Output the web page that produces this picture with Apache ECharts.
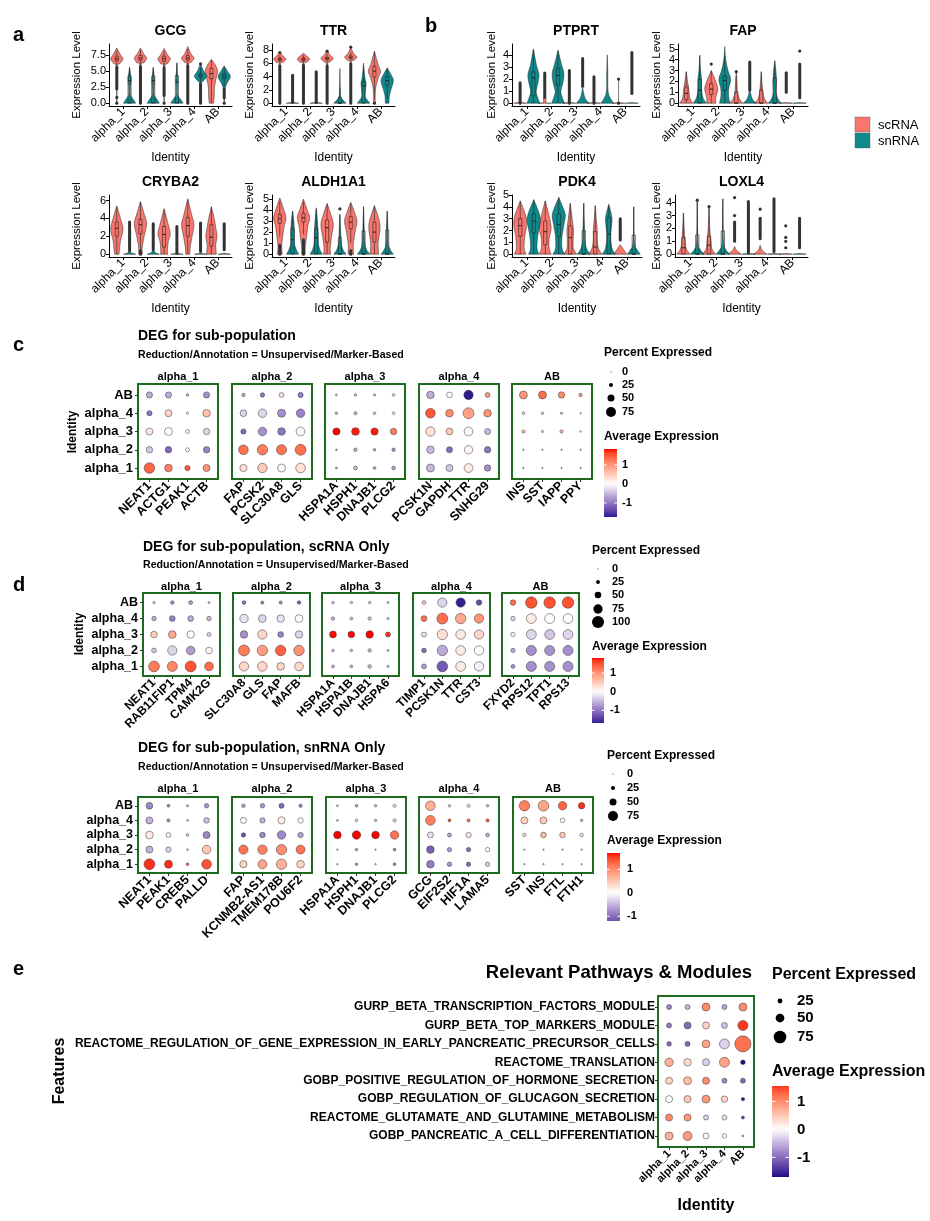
<!DOCTYPE html>
<html><head><meta charset="utf-8">
<script src="https://cdn.jsdelivr.net/npm/echarts@6/dist/echarts.min.js"></script>
<style>html,body{margin:0;padding:0;background:#fff}#c{width:930px;height:1221px}</style>
</head><body><div id="c"></div>
<script>
// ---------------- DATA ----------------
const IDENT = ['alpha_1','alpha_2','alpha_3','alpha_4','AB'];
const ROWS = ['AB','alpha_4','alpha_3','alpha_2','alpha_1'];
const GROUPS = ['scRNA','snRNA'];

// violin entries: [profile [[value, relWidth]...], box [lo,q1,med,q3,hi] | null, outliers (value or [from,to] stack)]
const GCG_sc = [
 [[[0,0.04],[5.4,0.05],[6.2,0.55],[6.9,1],[7.6,0.55],[8.6,0]],[5.8,6.6,6.9,7.3,8.2],[0,0.9,[2.2,5.6]]],
 [[[0,0.04],[5.6,0.05],[6.3,0.6],[7.0,1],[7.7,0.5],[8.6,0]],[5.9,6.7,7.0,7.4,8.3],[[0,5.7]]],
 [[[0,0.04],[5.4,0.05],[6.2,0.6],[6.9,1],[7.6,0.5],[8.5,0]],[5.7,6.5,6.9,7.3,8.1],[0,[1.2,5.5]]],
 [[[0,0.04],[5.6,0.05],[6.4,0.6],[7.0,1],[7.7,0.5],[8.8,0]],[5.9,6.7,7.0,7.4,8.4],[[0,5.8]]],
 [[[0,0.35],[1,0.45],[2.5,0.5],[4,0.8],[5,1],[6,0.6],[6.8,0]],[0,3.8,4.6,5.4,6.7],[]]
];
const GCG_sn = [
 [[[0,1],[0.6,0.6],[1.3,0.15],[2.5,0.12],[3.6,0.25],[4.6,0.15],[5.6,0]],[0,0,3.5,4.2,5.5],[]],
 [[[0,1],[0.6,0.6],[1.3,0.15],[2.5,0.12],[3.5,0.2],[4.6,0.12],[5.6,0]],[0,0,3.5,4.2,5.5],[]],
 [[[0,1],[0.6,0.6],[1.3,0.12],[2.5,0.1],[3.5,0.15],[4.8,0.08],[6.3,0]],[0,0,3.3,4.3,6.2],[]],
 [[[0,0.03],[2.8,0.05],[3.5,0.5],[4.2,1],[5,0.5],[6.1,0]],[3.2,4.0,4.3,4.6,5.6],[[0,3.0],6.1]],
 [[[0,0.03],[1.8,0.05],[3,0.4],[4.1,1],[5,0.5],[5.8,0]],[2.6,3.8,4.2,4.6,5.6],[0,[0.8,2.2]]]
];
const TTR_sc = [
 [[[0,0.04],[5.6,0.05],[6.1,0.5],[6.6,1],[7.1,0.5],[7.7,0]],[6.0,6.4,6.6,6.8,7.2],[[0,5.6],7.6]],
 [[[0,0.04],[5.6,0.05],[6.1,0.5],[6.6,1],[7.1,0.5],[7.5,0]],[6.0,6.4,6.6,6.8,7.2],[[0,5.7]]],
 [[[0,0.04],[5.5,0.05],[6.2,0.5],[6.7,1],[7.2,0.5],[7.9,0]],[6.0,6.5,6.7,6.9,7.4],[[0,5.6],7.8]],
 [[[0,0.04],[5.8,0.05],[6.4,0.5],[6.9,1],[7.4,0.5],[8.3,0]],[6.3,6.7,6.9,7.1,7.6],[[0,5.9],8.4]],
 [[[0,0.15],[1,0.12],[2.5,0.25],[4,0.7],[4.8,1],[5.8,0.6],[7.8,0]],[0.6,3.9,4.8,5.5,7.7],[0]]
];
const TTR_sn = [
 [[[0,1],[0.12,0]],null,[[0.1,4.2]]],
 [[[0,1],[0.12,0]],null,[[0.1,4.7]]],
 [[[0,1],[0.4,0.6],[0.9,0.15],[2,0.07],[5.2,0]],[0,0,0,0.9,2.2],[]],
 [[[0,1],[0.5,0.6],[1,0.25],[2,0.3],[3,0.4],[4,0.2],[6,0]],[0,0,2.6,3.2,5.5],[]],
 [[[0,0.3],[1,0.35],[2,0.6],[3.4,1],[4.3,0.6],[5.3,0]],[0.5,2.7,3.4,4.0,5.2],[]]
];
const CRYBA2_sc = [
 [[[0,0.35],[0.5,0.45],[1.5,0.6],[2.8,1],[4,0.6],[5.4,0]],[0,2.0,2.9,3.6,5.3],[]],
 [[[0,0.3],[0.8,0.3],[2,0.6],[3.4,1],[4.5,0.6],[5.9,0]],[0.3,2.3,3.3,3.9,5.8],[[0,0.4]]],
 [[[0,0.6],[0.5,0.55],[1.5,0.7],[2.3,1],[3.5,0.6],[5.1,0]],[0,0.8,2.2,3.1,5.0],[]],
 [[[0,0.35],[0.8,0.4],[2,0.7],[3.3,1],[4.5,0.6],[6.2,0]],[0,2.0,3.2,4.1,6.1],[]],
 [[[0,0.8],[1,0.7],[2,0.9],[3,0.7],[4,0.45],[5.3,0]],[0,0.9,1.9,3.3,5.3],[]]
];
const CRYBA2_sn = [
 [[[0,1],[0.15,0.3],[0.35,0]],null,[[0.4,3.6]]],
 [[[0,1],[0.15,0.4],[0.5,0]],null,[[0.5,3.4]]],
 [[[0,1],[0.1,0]],null,[[0.1,3.1]]],
 [[[0,1],[0.1,0]],null,[[0.3,3.5]]],
 [[[0,1],[0.1,0]],null,[[0.5,3.4]]]
];
const ALDH1A1_sc = [
 [[[0,0.4],[0.7,0.3],[1.5,0.45],[2.5,0.7],[3.3,1],[4.2,0.55],[5.1,0]],[1.6,2.8,3.2,3.6,4.8],[[0,0.8]]],
 [[[0,0.3],[0.7,0.3],[1.5,0.5],[2.5,0.7],[3.3,1],[4.1,0.55],[5.0,0]],[1.8,2.9,3.3,3.7,4.8],[[0,1.3]]],
 [[[0,0.6],[0.5,0.5],[1.5,0.7],[2.7,1],[3.6,0.6],[4.6,0]],[0,1.1,2.4,3.1,4.5],[]],
 [[[0,0.45],[0.8,0.4],[2,0.7],[3,1],[3.8,0.6],[4.7,0]],[1,2.3,2.9,3.4,4.6],[[0,0.3]]],
 [[[0,0.7],[1,0.6],[2.2,0.9],[3,0.8],[4.4,0]],[0,1.1,2.0,2.9,4.4],[]]
];
const ALDH1A1_sn = [
 [[[0,1],[0.4,0.6],[1,0.3],[2,0.3],[3,0.2],[3.9,0]],[0,0,1.3,2.3,3.9],[]],
 [[[0,1],[0.4,0.6],[1,0.35],[2,0.3],[3,0.2],[4.2,0]],[0,0,1.5,2.3,4.1],[]],
 [[[0,1],[0.4,0.5],[1,0.2],[2,0.12],[3.6,0]],[0,0,0,1.5,3.6],[4.1]],
 [[[0,1],[0.4,0.5],[1,0.2],[2.5,0.1],[4.3,0]],[0,0,0,2.1,4.3],[]],
 [[[0,1],[0.4,0.5],[1,0.15],[2.5,0.1],[3.9,0]],[0,0,0,2.2,3.9],[]]
];
const PTPRT_sc = [
 [[[0,1],[0.08,0]],null,[[0,1.7]]],
 [[[0,1],[0.05,0.25],[0.45,0.2],[0.5,0]],null,[[0.5,2.5]]],
 [[[0,1],[0.08,0]],null,[[0,2.7]]],
 [[[0,1],[0.08,0]],null,[[0,2.2]]],
 [[[0,1],[0.05,0]],[0,0,0,0,2.0],[0,2.0]]
];
const PTPRT_sn = [
 [[[0,1],[0.5,0.65],[1,0.45],[1.8,0.75],[2.4,0.85],[3.2,0.45],[4.5,0]],[0,0.6,2.1,2.6,4.4],[]],
 [[[0,1],[0.5,0.65],[1,0.45],[1.8,0.8],[2.5,0.9],[3.3,0.5],[4.4,0]],[0,1.5,2.3,2.9,4.3],[]],
 [[[0,1],[0.4,0.4],[1,0.1],[1.4,0]],null,[[1.4,3.7]]],
 [[[0,1],[0.4,0.5],[1,0.12],[2.5,0.08],[4.0,0]],null,[]],
 [[[0,1],[0.05,0]],null,[[0.8,4.2]]]
];
const FAP_sc = [
 [[[0,1],[0.4,0.6],[0.9,0.45],[1.3,0.4],[2,0.2],[2.9,0]],[0,0.3,0.9,1.5,2.9],[]],
 [[[0,0.7],[0.5,0.7],[1.3,1],[2,0.7],[3.0,0]],[0,0.8,1.3,1.8,3.0],[3.6]],
 [[[0,1],[0.4,0.5],[1,0.2],[2,0.1],[2.9,0]],[0,0,0,1.0,2.5],[2.9]],
 [[[0,1],[0.4,0.5],[1,0.25],[2,0.1],[2.9,0]],[0,0,0,1.2,2.9],[]],
 [[[0,1],[0.05,0]],null,[[1.0,2.8]]]
];
const FAP_sn = [
 [[[0,1],[0.5,0.5],[1.2,0.3],[2.3,0.25],[3.2,0.1],[4.4,0]],[0,0,1.2,2.2,4.4],[]],
 [[[0,0.8],[0.6,0.6],[1.3,0.6],[2.2,0.9],[3,0.5],[4,0.15],[5.2,0]],[0,1.2,2.1,2.5,4.3],[]],
 [[[0,1],[0.4,0.4],[1,0.1],[1.2,0]],null,[[1.2,3.8]]],
 [[[0,1],[0.4,0.5],[1,0.2],[2,0.25],[2.8,0.2],[3.9,0]],[0,0,0,2.3,3.9],[]],
 [[[0,1],[0.05,0]],null,[[0.5,3.6],4.8]]
];
const PDK4_sc = [
 [[[0,0.9],[0.5,0.6],[1.5,0.7],[2.5,1],[3.3,0.8],[4.5,0]],[0,1.5,2.4,3.0,4.5],[]],
 [[[0,0.9],[0.5,0.6],[1.3,0.6],[2.2,0.9],[3.2,0.6],[4.5,0]],[0,0.8,1.9,2.8,4.5],[]],
 [[[0,1],[0.5,0.5],[1.3,0.45],[2,0.5],[3,0.3],[4.3,0]],[0,0,1.4,2.4,4.3],[]],
 [[[0,1],[0.5,0.5],[1.2,0.3],[2,0.3],[3,0.15],[4.1,0]],[0,0,0.6,1.9,4.1],[]],
 [[[0,1],[0.4,0.5],[0.8,0]],null,[[1.2,3.0]]]
];
const PDK4_sn = [
 [[[0,0.8],[0.5,0.5],[1.5,0.6],[2.8,1],[3.5,0.8],[4.6,0]],[0,1.8,2.8,3.4,4.6],[]],
 [[[0,0.9],[0.5,0.5],[1.5,0.5],[2.5,0.8],[3.3,1],[4,0.6],[4.8,0]],[0,1.5,2.5,3.4,4.8],[]],
 [[[0,1],[0.4,0.5],[1,0.2],[2,0.12],[4.3,0]],[0,0,0,2.0,4.3],[]],
 [[[0,1],[0.5,0.5],[1.5,0.3],[2.5,0.45],[3,0.5],[3.6,0.3],[4.2,0]],[0,0,1.7,3.1,4.2],[]],
 [[[0,1],[0.4,0.5],[1,0.1],[4.0,0]],[0,0,0,1.6,4.0],[]]
];
const LOXL4_sc = [
 [[[0,1],[0.4,0.45],[1,0.25],[2,0.12],[3.2,0]],[0,0,0.5,1.3,3.2],[]],
 [[[0,1],[0.4,0.45],[1,0.3],[2,0.12],[3.6,0]],[0,0,0.7,1.4,3.6],[3.7]],
 [[[0,1],[0.3,0.3],[0.6,0]],null,[[1.0,2.5],3.0,4.4]],
 [[[0,1],[0.3,0.3],[0.7,0]],null,[[1.2,2.8],3.5]],
 [[[0,1],[0.05,0]],null,[0.5,1.0,1.3,2.2]]
];
const LOXL4_sn = [
 [[[0,1],[0.4,0.4],[1,0.1],[4.2,0]],[0,0,0,1.5,4.2],[4.2]],
 [[[0,1],[0.4,0.4],[1,0.1],[4.3,0]],[0,0,0,1.8,4.3],[]],
 [[[0,1],[0.05,0]],null,[[0.1,4.1]]],
 [[[0,1],[0.05,0]],null,[[0.2,4.3]]],
 [[[0,1],[0.05,0]],null,[[0.5,2.8]]]
];

// dot plots: [facet][row AB..alpha_1][gene]
const DOT_FACETS = ['alpha_1','alpha_2','alpha_3','alpha_4','AB'];
const c_genes = [['NEAT1','ACTG1','PEAK1','ACTB'],['FAP','PCSK2','SLC30A8','GLS'],['HSPA1A','HSPH1','DNAJB1','PLCG2'],['PCSK1N','GAPDH','TTR','SNHG29'],['INS','SST','IAPP','PPY']];
const c_avg = [
 [[-0.6,-0.6,-0.5,-0.8],[-1.0,0.4,0,0.6],[0.2,0,0,-0.3],[-0.4,-1.1,0,-0.9],[1.4,1.2,1.5,1.0]],
 [[-0.6,-1.0,0.3,-0.9],[-0.3,-0.3,-0.8,-0.9],[-1.1,-0.8,-1.0,0.1],[1.3,1.2,1.3,1.3],[0.3,0.5,0.05,0.3]],
 [[-0.3,-0.5,-0.4,0.2],[-0.5,-0.5,-0.3,0.1],[1.84,1.8,1.8,1.2],[-0.5,-0.6,-0.7,-0.8],[-0.5,-0.5,-0.6,-0.7]],
 [[-0.6,0,-1.74,1.0],[1.5,1.1,0.9,1.0],[0.3,0.5,0.1,-0.5],[-0.5,-1.1,0.1,-1.0],[-0.5,-0.4,0.2,-0.8]],
 [[1.0,1.3,1.1,1.0],[-0.2,-0.3,-0.5,-0.4],[0.7,0.5,0.7,0],[-0.5,-0.5,-0.5,-0.5],[-0.5,-0.5,-0.5,-0.5]]
];
const c_pct = [
 [[43,43,12,43],[35,50,10,55],[50,58,25,45],[45,45,25,45],[80,55,36,50]],
 [[20,28,32,35],[48,62,58,62],[35,62,55,65],[72,78,76,82],[52,70,58,72]],
 [[8,12,10,15],[12,18,14,15],[52,56,52,45],[6,20,12,20],[8,24,15,22]],
 [[55,40,70,32],[72,55,82,55],[70,48,65,42],[55,42,62,45],[58,50,65,45]],
 [[58,58,45,20],[15,12,10,4],[18,10,18,5],[3,3,3,3],[3,3,3,3]]
];
const d_genes = [['NEAT1','RAB11FIP1','TPM4','CAMK2G'],['SLC30A8','GLS','FAP','MAFB'],['HSPA1A','HSPA1B','DNAJB1','HSPA6'],['TIMP1','PCSK1N','TTR','CST3'],['FXYD2','RPS12','TPT1','RPS13']];
const d_avg = [
 [[-0.3,-0.8,-0.7,-0.3],[-0.6,-0.9,-0.6,-0.5],[0.5,0.8,0.0,-0.3],[-0.4,-0.3,-0.7,0.05],[1.2,1.1,1.5,1.3]],
 [[-1.0,-0.9,-0.8,-1.1],[-0.2,-0.3,-0.2,0.0],[-0.8,0.4,-0.9,-0.3],[1.2,0.9,1.4,1.0],[0.4,0.4,0.4,0.4]],
 [[-0.3,-0.3,-0.3,-0.2],[-0.5,-0.4,-0.4,-0.3],[1.8,1.8,1.81,1.7],[-0.4,-0.4,-0.5,-0.3],[-0.5,-0.5,-0.5,-0.3]],
 [[0.5,-0.3,-1.68,-1.3],[1.3,1.3,0.8,1.0],[-0.2,0.3,0.2,0.4],[-1.1,-0.6,0.2,0.0],[-0.7,-1.2,0.2,-0.1]],
 [[1.3,1.5,1.5,1.5],[-0.3,0.2,0,0],[0.1,-0.3,-0.4,-0.3],[-0.6,-0.8,-0.8,-0.8],[-0.8,-0.8,-0.8,-0.8]]
];
const d_pct = [
 [[10,22,25,8],[30,42,42,30],[50,60,58,25],[33,75,68,50],[88,82,90,70]],
 [[25,18,18,22],[65,60,58,62],[58,75,42,58],[90,85,85,85],[75,78,60,70]],
 [[12,12,12,8],[20,16,20,10],[52,50,58,35],[12,12,20,8],[15,15,22,10]],
 [[25,75,75,40],[42,90,85,75],[35,85,78,75],[32,85,78,75],[35,88,80,75]],
 [[40,95,95,95],[30,80,80,80],[30,80,80,80],[28,82,82,82],[25,82,82,82]]
];
const n_genes = [['NEAT1','PEAK1','CREB5','PALLD'],['FAP','KCNMB2-AS1','TMEM178B','POU6F2'],['HSPA1A','HSPH1','DNAJB1','PLCG2'],['GCG','EIF2S2','HIF1A','LAMA5'],['SST','INS','FTL','FTH1']];
const n_avg = [
 [[-0.8,-0.8,-0.5,-0.7],[-0.5,-0.7,-0.4,-0.4],[0.2,0.05,0.5,-0.8],[-0.5,-0.3,-0.3,0.5],[1.6,1.6,1.2,1.4]],
 [[-0.6,-0.7,-1.0,-0.8],[0.05,-0.5,0.15,0],[-1.2,-0.8,-0.8,-0.6],[1.2,1.1,1.0,1.2],[0.4,0.8,0.7,0.4]],
 [[-0.3,-0.5,-0.5,0.3],[-0.3,-0.2,-0.4,0.4],[1.7,1.7,1.7,1.2],[-0.3,-0.7,-0.3,-0.8],[-0.3,-0.7,-0.3,-0.8]],
 [[0.7,0.5,0.3,-0.5],[1.1,1.5,1.1,1.4],[-0.2,-0.6,0.2,-0.6],[-1.1,-0.7,-1.0,0.0],[-0.9,-0.7,-1.0,-0.3]],
 [[1.1,0.8,1.3,1.6],[0.4,0.5,0.05,-0.5],[0.3,0.6,0.5,0.2],[-0.3,-0.3,-0.3,-0.3],[-0.3,-0.3,-0.3,-0.3]]
];
const n_pct = [
 [[48,15,8,28],[50,18,7,38],[55,32,14,50],[50,36,6,63],[82,58,15,72]],
 [[22,28,34,20],[42,36,52,36],[28,38,62,36],[68,70,78,66],[52,66,78,56]],
 [[8,15,12,18],[8,15,12,18],[55,62,55,62],[4,12,4,15],[4,12,5,15]],
 [[72,12,18,12],[72,15,18,18],[42,25,36,22],[55,28,28,28],[55,28,28,28]],
 [[78,80,62,45],[50,50,30,12],[20,38,38,20],[4,4,4,4],[4,4,4,4]]
];
const e_features = ['GURP_BETA_TRANSCRIPTION_FACTORS_MODULE','GURP_BETA_TOP_MARKERS_MODULE','REACTOME_REGULATION_OF_GENE_EXPRESSION_IN_EARLY_PANCREATIC_PRECURSOR_CELLS','REACTOME_TRANSLATION','GOBP_POSITIVE_REGULATION_OF_HORMONE_SECRETION','GOBP_REGULATION_OF_GLUCAGON_SECRETION','REACTOME_GLUTAMATE_AND_GLUTAMINE_METABOLISM','GOBP_PANCREATIC_A_CELL_DIFFERENTIATION'];
const e_avg = [
 [-0.8,-0.5,1.0,-0.6,1.0],
 [-0.9,-1.0,0.4,-0.4,1.55],
 [-1.0,-1.0,0.8,-0.3,1.2],
 [0.7,0.3,-0.3,0.8,-1.7],
 [0.4,0.6,1.0,-0.8,-1.0],
 [0.0,0.5,0.9,0.4,-1.6],
 [1.0,0.9,-0.3,-0.2,-1.3],
 [0.7,0.9,0.1,0.0,-0.5]
];
const e_pct = [
 [26,26,45,26,45],
 [26,39,39,32,58],
 [23,26,45,58,97],
 [48,42,39,58,23],
 [39,45,39,26,26],
 [39,39,45,35,16],
 [39,39,26,26,13],
 [45,52,32,23,6]
];

// ---------------- HELPERS ----------------
const FONT = "'Liberation Sans', Arial, Helvetica, sans-serif";
const RED = '#F8766D', TEAL = '#0E8A8C', GREEN = '#1e6b1e';
const grids = [], xAxes = [], yAxes = [], series = [], graphics = [];

function txt(x, y, s, font, align, rot, fill) {
  return { type: 'text', x: x, y: y, rotation: rot || 0, silent: true,
    style: { text: s, font: font, fill: fill || '#000', align: align || 'left', verticalAlign: 'middle',
             textAlign: align || 'left', textVerticalAlign: 'middle' } };
}
function hex2rgb(h){h=h.replace('#','');return [parseInt(h.slice(0,2),16),parseInt(h.slice(2,4),16),parseInt(h.slice(4,6),16)];}
function s2l(c){c/=255;return c<=0.04045?c/12.92:Math.pow((c+0.055)/1.055,2.4);}
function l2s(c){const v=c<=0.0031308?12.92*c:1.055*Math.pow(c,1/2.4)-0.055;return Math.round(Math.max(0,Math.min(1,v))*255);}
function rgb2lab(rgb){const r=s2l(rgb[0]),g=s2l(rgb[1]),b=s2l(rgb[2]);
  const x=(r*0.4124+g*0.3576+b*0.1805)/0.95047,y=r*0.2126+g*0.7152+b*0.0722,z=(r*0.0193+g*0.1192+b*0.9505)/1.08883;
  const f=t=>t>0.008856?Math.cbrt(t):(7.787*t+16/116);const fx=f(x),fy=f(y),fz=f(z);
  return [116*fy-16,500*(fx-fy),200*(fy-fz)];}
function lab2rgb(l){const fy=(l[0]+16)/116,fx=fy+l[1]/500,fz=fy-l[2]/200;
  const fi=t=>{const t3=t*t*t;return t3>0.008856?t3:(t-16/116)/7.787;};
  const x=fi(fx)*0.95047,y=fi(fy),z=fi(fz)*1.08883;
  return [l2s(x*3.2406-y*1.5372-z*0.4986),l2s(-x*0.9689+y*1.8758+z*0.0415),l2s(x*0.0557-y*0.2040+z*1.0570)];}
const LAB_W = rgb2lab([255,255,255]), LAB_HI = rgb2lab(hex2rgb('#FF0000')), LAB_LO = rgb2lab(hex2rgb('#1A0A8A'));
function colorFn(t){
  t = Math.max(-1, Math.min(1, t));
  const end = t >= 0 ? LAB_HI : LAB_LO, a = Math.abs(t);
  const c = lab2rgb([0,1,2].map(k => LAB_W[k] + (end[k]-LAB_W[k])*a));
  return 'rgb(' + c.join(',') + ')';
}
function catmull(pts, seg){
  const out=[];
  for(let i=0;i<pts.length-1;i++){
    const p0=pts[Math.max(i-1,0)],p1=pts[i],p2=pts[i+1],p3=pts[Math.min(i+2,pts.length-1)];
    for(let s=0;s<seg;s++){
      const t=s/seg,t2=t*t,t3=t2*t;
      const f=k=>0.5*((2*p1[k])+(-p0[k]+p2[k])*t+(2*p0[k]-5*p1[k]+4*p2[k]-p3[k])*t2+(-p0[k]+3*p1[k]-3*p2[k]+p3[k])*t3);
      out.push([f(0),f(1)]);
    }
  }
  out.push(pts[pts.length-1]);
  return out;
}

// ---------------- VIOLIN PANELS ----------------
function violinRender(list, grp, color){
  return function(params, api){
    const spec = list[params.dataIndex];
    const i = api.value(0);
    const unit = api.size([1,0])[0];
    const cx = api.coord([i,0])[0] + (grp===0?-1:1)*0.27*unit;
    const hw = 0.26*unit;
    const Y = v => api.coord([i,v])[1];
    const sm = catmull(spec[0].map(p => [p[1], Y(p[0])]), 10);
    const right = sm.map(p => [cx + Math.max(0,p[0])*hw, p[1]]);
    const left = sm.slice().reverse().map(p => [cx - Math.max(0,p[0])*hw, p[1]]);
    const ch = [{type:'polygon', shape:{points:right.concat(left)}, style:{fill:color, stroke:'#222', lineWidth:0.5}}];
    const b = spec[1];
    if (b){
      const bw = 0.065*unit;
      ch.push({type:'line', shape:{x1:cx,y1:Y(b[0]),x2:cx,y2:Y(b[1])}, style:{stroke:'#222',lineWidth:0.6}});
      ch.push({type:'line', shape:{x1:cx,y1:Y(b[3]),x2:cx,y2:Y(b[4])}, style:{stroke:'#222',lineWidth:0.6}});
      if (b[3]>b[1]) ch.push({type:'rect', shape:{x:cx-bw,y:Y(b[3]),width:2*bw,height:Y(b[1])-Y(b[3])}, style:{fill:'none',stroke:'#222',lineWidth:0.6}});
      ch.push({type:'line', shape:{x1:cx-bw,y1:Y(b[2]),x2:cx+bw,y2:Y(b[2])}, style:{stroke:'#222',lineWidth:1}});
    }
    for (const o of spec[2]){
      if (Array.isArray(o)) ch.push({type:'line', shape:{x1:cx,y1:Y(o[0]),x2:cx,y2:Y(o[1])}, style:{stroke:'#333',lineWidth:3,lineCap:'round'}});
      else ch.push({type:'circle', shape:{cx:cx,cy:Y(o),r:1.6}, style:{fill:'#333'}});
    }
    return {type:'group', children:ch};
  };
}
function violinPanel(p){
  const gi = grids.length; const [L,T,W,H] = p.rect;
  grids.push({left:L, top:T, width:W, height:H});
  xAxes.push({gridIndex:gi, type:'value', min:-0.6, max:4.6,
    axisLine:{show:true,onZero:false,lineStyle:{color:'#000',width:1}},
    axisTick:{show:true,customValues:[0,1,2,3,4],length:3,lineStyle:{color:'#000'}},
    axisLabel:{customValues:[0,1,2,3,4],formatter:v=>IDENT[Math.round(v)],rotate:45,fontSize:12,color:'#000',fontFamily:FONT,margin:4,showMinLabel:true,showMaxLabel:true,hideOverlap:false},
    splitLine:{show:false}});
  yAxes.push({gridIndex:gi, type:'value', min:p.ymin, max:p.ymax,
    axisLine:{show:true,onZero:false,lineStyle:{color:'#000',width:1}},
    axisTick:{show:true,customValues:p.ticks,length:3,lineStyle:{color:'#000'}},
    axisLabel:{customValues:p.ticks,formatter:v=>p.dec?v.toFixed(1):String(v),fontSize:11,color:'#000',fontFamily:FONT,margin:3,showMinLabel:true,showMaxLabel:true,hideOverlap:false},
    splitLine:{show:false}});
  [[p.sc,0,RED],[p.sn,1,TEAL]].forEach(([list,g,col]) => {
    series.push({type:'custom', name:GROUPS[g], xAxisIndex:gi, yAxisIndex:gi, data:list.map((v,i)=>[i,0]),
      encode:{x:0,y:1}, renderItem:violinRender(list,g,col), silent:true, animation:false, clip:false});
  });
  graphics.push(txt(L+W/2, p.titleY, p.title, 'bold 14px '+FONT, 'center'));
  graphics.push(txt(L+W/2, p.idY, 'Identity', '12px '+FONT, 'center'));
  graphics.push(txt(p.elX, T+31, 'Expression Level', '11.5px '+FONT, 'center', Math.PI/2));
}
violinPanel({title:'GCG', sc:GCG_sc, sn:GCG_sn, rect:[109,44,123,62], ymin:-0.44, ymax:9.2, ticks:[0,2.5,5,7.5], dec:1, titleY:31, idY:158, elX:77});
violinPanel({title:'TTR', sc:TTR_sc, sn:TTR_sn, rect:[272,44,123,62], ymin:-0.42, ymax:8.87, ticks:[0,2,4,6,8], titleY:31, idY:158, elX:250});
violinPanel({title:'CRYBA2', sc:CRYBA2_sc, sn:CRYBA2_sn, rect:[109,195,123,62], ymin:-0.31, ymax:6.62, ticks:[0,2,4,6], titleY:182, idY:309, elX:77});
violinPanel({title:'ALDH1A1', sc:ALDH1A1_sc, sn:ALDH1A1_sn, rect:[272,195,123,62], ymin:-0.26, ymax:5.36, ticks:[0,1,2,3,4,5], titleY:182, idY:309, elX:250});
violinPanel({title:'PTPRT', sc:PTPRT_sc, sn:PTPRT_sn, rect:[512,44,128,62], ymin:-0.23, ymax:4.9, ticks:[0,1,2,3,4], titleY:31, idY:158, elX:492});
violinPanel({title:'FAP', sc:FAP_sc, sn:FAP_sn, rect:[678,44,130,62], ymin:-0.26, ymax:5.45, ticks:[0,1,2,3,4,5], titleY:31, idY:158, elX:657});
violinPanel({title:'PDK4', sc:PDK4_sc, sn:PDK4_sn, rect:[512,195,130,62], ymin:-0.24, ymax:5.0, ticks:[0,1,2,3,4,5], titleY:182, idY:309, elX:492});
violinPanel({title:'LOXL4', sc:LOXL4_sc, sn:LOXL4_sn, rect:[675,195,133,62], ymin:-0.22, ymax:4.6, ticks:[0,1,2,3,4], titleY:182, idY:309, elX:657});

// a/b legend
graphics.push({type:'rect', shape:{x:855,y:117,width:15,height:15}, style:{fill:RED, stroke:'#555', lineWidth:0.4}});
graphics.push({type:'rect', shape:{x:855,y:133,width:15,height:15}, style:{fill:TEAL, stroke:'#555', lineWidth:0.4}});
graphics.push(txt(878,125,GROUPS[0],'13px '+FONT,'left'));
graphics.push(txt(878,141,GROUPS[1],'13px '+FONT,'left'));

// ---------------- DOT PANELS ----------------
function dotFacets(cfg){
  const flat = cfg.avg.flat(2);
  const lo = Math.min(...flat), hi = Math.max(...flat), M = Math.max(Math.abs(lo), Math.abs(hi));
  DOT_FACETS.forEach((fname, f) => {
    const gi = grids.length;
    grids.push({left:cfg.lefts[f], top:cfg.top, width:cfg.w, height:cfg.h, show:true, borderColor:GREEN, borderWidth:2});
    const genes = cfg.genes[f];
    xAxes.push({gridIndex:gi, type:'value', min:-0.6, max:genes.length-0.4,
      axisLine:{show:false,onZero:false}, axisTick:{show:true,customValues:[0,1,2,3],length:3,lineStyle:{color:'#333'}},
      axisLabel:{customValues:[0,1,2,3],formatter:v=>genes[Math.round(v)],rotate:45,fontSize:cfg.xfs,fontWeight:'bold',color:'#000',fontFamily:FONT,margin:5,showMinLabel:true,showMaxLabel:true,hideOverlap:false},
      splitLine:{show:false}});
    yAxes.push({gridIndex:gi, type:'value', min:-0.6, max:4.6, inverse:true,
      axisLine:{show:false,onZero:false}, axisTick:{show:f===0,customValues:[0,1,2,3,4],length:3,lineStyle:{color:'#333'}},
      axisLabel:{show:f===0,customValues:[0,1,2,3,4],formatter:v=>ROWS[Math.round(v)],fontSize:cfg.yfs,fontWeight:'bold',color:'#000',fontFamily:FONT,margin:5,showMinLabel:true,showMaxLabel:true,hideOverlap:false},
      splitLine:{show:false}});
    const data = [];
    cfg.avg[f].forEach((row, r) => row.forEach((a, g) => data.push([g, r, a, cfg.pct[f][r][g]])));
    series.push({type:'scatter', xAxisIndex:gi, yAxisIndex:gi, data:data,
      symbolSize:v => cfg.k0 + cfg.k1*v[3],
      itemStyle:{color:p => colorFn(p.value[2]/M), borderColor:'#333', borderWidth:0.5, opacity:1},
      silent:true, animation:false, clip:false});
    graphics.push(txt(cfg.lefts[f]+cfg.w/2, cfg.stripY, fname, 'bold 11px '+FONT, 'center'));
  });
  return {lo, hi, M};
}
function legend(o, sc){
  graphics.push(txt(o.x, o.t1, 'Percent Expressed', 'bold '+o.f1+'px '+FONT, 'left'));
  o.dots.forEach(([v,y]) => {
    graphics.push({type:'circle', silent:true, shape:{cx:o.dotX, cy:y, r:Math.max(0.5,(o.k0+o.k1*v)/2)}, style:{fill:'#000'}});
    graphics.push(txt(o.labX, y, String(v), 'bold '+o.lf+'px '+FONT, 'left'));
  });
  graphics.push(txt(o.x, o.t2, 'Average Expression', 'bold '+o.f1+'px '+FONT, 'left'));
  const [bx,by,bw,bh] = o.bar;
  const stops = [];
  for (let s=0;s<=24;s++){ const v = sc.hi - (sc.hi-sc.lo)*s/24; stops.push({offset:s/24, color:colorFn(v/sc.M)}); }
  graphics.push({type:'rect', silent:true, shape:{x:bx,y:by,width:bw,height:bh}, style:{fill:{type:'linear',x:0,y:0,x2:0,y2:1,colorStops:stops}}});
  [1,0,-1].forEach(v => {
    const y = by + (sc.hi - v)/(sc.hi - sc.lo)*bh;
    graphics.push({type:'line', silent:true, shape:{x1:bx,y1:y,x2:bx+bw*0.2,y2:y}, style:{stroke:'#fff',lineWidth:1}});
    graphics.push({type:'line', silent:true, shape:{x1:bx+bw*0.8,y1:y,x2:bx+bw,y2:y}, style:{stroke:'#fff',lineWidth:1}});
    graphics.push(txt(o.barLabX, y, String(v), 'bold '+o.lf+'px '+FONT, 'left'));
  });
}

// panel c
graphics.push(txt(138,336,'DEG for sub-population','bold 14px '+FONT,'left'));
graphics.push(txt(138,355.5,'Reduction/Annotation = Unsupervised/Marker-Based','bold 10.6px '+FONT,'left'));
graphics.push(txt(73,432,'Identity','bold 12px '+FONT,'center',Math.PI/2));
const cS = dotFacets({genes:c_genes, avg:c_avg, pct:c_pct, lefts:[138,232,325,419,512], w:80, top:384, h:95, stripY:377, xfs:12.5, yfs:13, k0:1, k1:0.12});
legend({x:604,t1:353,f1:12,dots:[[0,372],[25,385],[50,398],[75,412]],k0:1,k1:0.12,dotX:611,labX:622,lf:11,t2:437,bar:[604,449,13,68],barLabX:622}, cS);

// panel d
graphics.push(txt(143,547,'DEG for sub-population, scRNA Only','bold 14px '+FONT,'left'));
graphics.push(txt(143,565.5,'Reduction/Annotation = Unsupervised/Marker-Based','bold 10.6px '+FONT,'left'));
graphics.push(txt(80,634,'Identity','bold 12px '+FONT,'center',Math.PI/2));
const dS = dotFacets({genes:d_genes, avg:d_avg, pct:d_pct, lefts:[143,233,322,413,502], w:77, top:593, h:83, stripY:587, xfs:12, yfs:12.5, k0:1.2, k1:0.108});
legend({x:592,t1:551,f1:12,dots:[[0,569],[25,582],[50,595],[75,609],[100,622]],k0:1.2,k1:0.108,dotX:598,labX:612,lf:11,t2:647,bar:[592,658,12,65],barLabX:610}, dS);

// snRNA only
graphics.push(txt(138,748,'DEG for sub-population, snRNA Only','bold 14px '+FONT,'left'));
graphics.push(txt(138,767,'Reduction/Annotation = Unsupervised/Marker-Based','bold 10.6px '+FONT,'left'));
const nS = dotFacets({genes:n_genes, avg:n_avg, pct:n_pct, lefts:[138,232,326,419,513], w:80, top:797, h:76, stripY:789, xfs:12.5, yfs:12.5, k0:1, k1:0.12});
legend({x:607,t1:756,f1:12,dots:[[0,774],[25,788],[50,802],[75,816]],k0:1,k1:0.12,dotX:613,labX:627,lf:11,t2:841,bar:[607,853,13,68],barLabX:627}, nS);

// panel e
(function(){
  const flat = e_avg.flat();
  const lo = Math.min(...flat), hi = Math.max(...flat), M = Math.max(Math.abs(lo), Math.abs(hi));
  const gi = grids.length;
  grids.push({left:658, top:996, width:96, height:151, show:true, borderColor:GREEN, borderWidth:2});
  xAxes.push({gridIndex:gi, type:'value', min:-0.6, max:4.6,
    axisLine:{show:false,onZero:false}, axisTick:{show:true,customValues:[0,1,2,3,4],length:3,lineStyle:{color:'#333'}},
    axisLabel:{customValues:[0,1,2,3,4],formatter:v=>IDENT[Math.round(v)],rotate:45,fontSize:11,fontWeight:'bold',color:'#000',fontFamily:FONT,margin:5,showMinLabel:true,showMaxLabel:true,hideOverlap:false},
    splitLine:{show:false}});
  yAxes.push({gridIndex:gi, type:'value', min:-0.6, max:e_features.length-0.4, inverse:true,
    axisLine:{show:false,onZero:false}, axisTick:{show:true,customValues:e_features.map((s,i)=>i),length:3,lineStyle:{color:'#333'}},
    axisLabel:{customValues:e_features.map((s,i)=>i),formatter:v=>e_features[Math.round(v)],fontSize:12,fontWeight:'bold',color:'#000',fontFamily:FONT,margin:3,showMinLabel:true,showMaxLabel:true,hideOverlap:false},
    splitLine:{show:false}});
  const data = [];
  e_avg.forEach((row, r) => row.forEach((a, c) => data.push([c, r, a, e_pct[r][c]])));
  series.push({type:'scatter', xAxisIndex:gi, yAxisIndex:gi, data:data, symbolSize:v => 1 + 0.155*v[3],
    itemStyle:{color:p => colorFn(p.value[2]/M), borderColor:'#333', borderWidth:0.5, opacity:1}, silent:true, animation:false, clip:false});
  graphics.push(txt(619,973,'Relevant Pathways & Modules','bold 18.5px '+FONT,'center'));
  graphics.push(txt(60,1071,'Features','bold 16px '+FONT,'center',Math.PI/2));
  graphics.push(txt(706,1206,'Identity','bold 16px '+FONT,'center'));
  legend({x:772,t1:975,f1:16,dots:[[25,1001],[50,1018],[75,1037]],k0:1,k1:0.155,dotX:780,labX:797,lf:15,t2:1072,bar:[772,1086,17,91],barLabX:797}, {lo, hi, M});
})();

// panel letters
graphics.push(txt(13,35,'a','bold 20px '+FONT,'left'));
graphics.push(txt(425,26,'b','bold 20px '+FONT,'left'));
graphics.push(txt(13,345,'c','bold 20px '+FONT,'left'));
graphics.push(txt(13,585,'d','bold 20px '+FONT,'left'));
graphics.push(txt(13,969,'e','bold 20px '+FONT,'left'));

const chart = echarts.init(document.getElementById('c'), null, {renderer:'canvas', width:930, height:1221});
chart.setOption({
  animation:false, backgroundColor:'#fff',
  textStyle:{fontFamily:FONT},
  grid:grids, xAxis:xAxes, yAxis:yAxes, series:series, graphic:graphics
});
</script></body></html>
